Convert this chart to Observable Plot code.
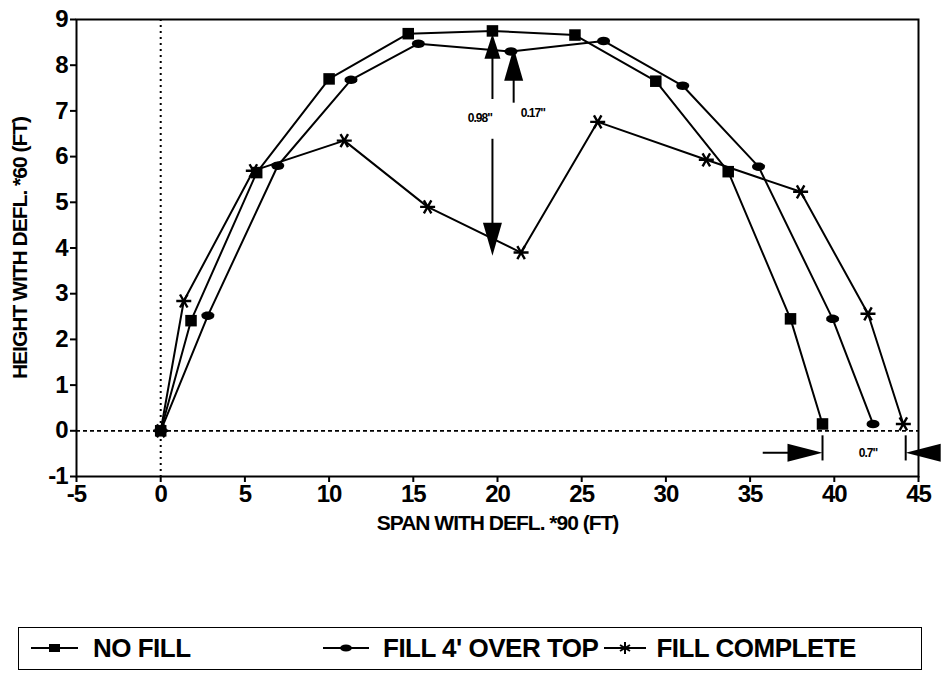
<!DOCTYPE html>
<html>
<head>
<meta charset="utf-8">
<script src="https://cdn.jsdelivr.net/npm/d3@7"></script>
<script src="https://cdn.jsdelivr.net/npm/@observablehq/plot@0.6"></script>
<style>
  html, body { margin: 0; padding: 0; background: #fff; overflow: hidden; }
  #wrap { position: relative; width: 943px; height: 673px; font-family: "Liberation Sans", Arial, sans-serif; }
  #chart svg { overflow: hidden; }
  #legend { position: absolute; left: 18px; top: 627px; width: 904px; height: 43px; border: 1.5px solid #000; box-sizing: border-box; }
  .row { position: absolute; top: 0; height: 40px; display: flex; align-items: center; }
  .row span { font-size: 26px; font-weight: bold; letter-spacing: -0.5px; white-space: pre; line-height: 1; }
  .row svg { display: block; }
</style>
</head>
<body>
<div id="wrap">
  <div id="chart"></div>
  <div id="legend">
    <div class="row" style="left:12px">
      <svg width="47" height="20"><line x1="0" y1="10" x2="47" y2="10" stroke="#000" stroke-width="2.2"/><rect x="18" y="6" width="11" height="8" fill="#000"/></svg>
      <span style="margin-left:15px">NO FILL</span>
    </div>
    <div class="row" style="left:304px">
      <svg width="46" height="20"><line x1="0" y1="10" x2="46" y2="10" stroke="#000" stroke-width="2.2"/><ellipse cx="23" cy="10" rx="6" ry="3.5" fill="#000"/></svg>
      <span style="margin-left:14px">FILL 4' OVER TOP</span>
      <svg width="42" height="20" style="margin-left:6px"><line x1="0" y1="10" x2="42" y2="10" stroke="#000" stroke-width="2"/><g stroke="#000" stroke-width="2"><line x1="21" y1="4" x2="21" y2="16"/><line x1="16" y1="7" x2="26" y2="13"/><line x1="16" y1="13" x2="26" y2="7"/></g></svg>
      <span style="margin-left:10px">FILL COMPLETE</span>
    </div>
  </div>
</div>
<script>
// ---- data ----
const noFillX = [0, 1.8, 5.7, 10.0, 14.7, 19.7, 24.6, 29.4, 33.7, 37.4, 39.3];
const noFillY = [0, 2.41, 5.65, 7.7, 8.69, 8.75, 8.66, 7.65, 5.67, 2.45, 0.15];

const fill4X = [0, 2.8, 6.95, 11.3, 15.3, 20.8, 26.3, 31.0, 35.5, 39.9, 42.3];
const fill4Y = [0, 2.52, 5.8, 7.68, 8.47, 8.3, 8.53, 7.55, 5.78, 2.45, 0.15];

const fullX = [0, 1.37, 5.5, 10.9, 15.85, 21.4, 25.95, 32.4, 38.0, 42.0, 44.1];
const fullY = [0, 2.84, 5.69, 6.35, 4.9, 3.9, 6.76, 5.93, 5.23, 2.56, 0.15];

const xTicks = [-5, 0, 5, 10, 15, 20, 25, 30, 35, 40, 45];
const yTicks = [-1, 0, 1, 2, 3, 4, 5, 6, 7, 8, 9];

// annotation arrows (deflection markers)
const shaftX1 = [19.7, 19.7, 20.96, 35.75];
const shaftY1 = [7.26, 6.39, 7.18, -0.48];
const shaftX2 = [19.7, 19.7, 20.96, 38.0];
const shaftY2 = [8.2, 4.5, 7.75, -0.48];

const headUpX = [19.7];   const headUpY = [8.69];
const headUp2X = [20.96]; const headUp2Y = [8.38];
const headDownX = [19.7]; const headDownY = [3.83];
const headRightX = [39.3]; const headRightY = [-0.48];
const headLeftX = [44.24]; const headLeftY = [-0.48];

const barX = [39.3, 44.24];
const barY1 = [-0.11, -0.11];
const barY2 = [-0.66, -0.66];

const labelText = ["0.98\"", "0.17\"", "0.7\""];
const labelX = [18.95, 22.1, 42.0];
const labelY = [6.85, 6.96, -0.48];

const titleX = "SPAN WITH DEFL. *90 (FT)";
const titleY = "HEIGHT WITH DEFL. *60 (FT)";

// ---- build tables ----
const zip = (xs, ys) => xs.map((x, i) => ({x, y: ys[i]}));
const noFill = zip(noFillX, noFillY);
const fill4 = zip(fill4X, fill4Y);
const full = zip(fullX, fullY);
const shafts = shaftX1.map((x1, i) => ({x1, y1: shaftY1[i], x2: shaftX2[i], y2: shaftY2[i]}));
const bars = barX.map((x, i) => ({x, y1: barY1[i], y2: barY2[i]}));
const labels = labelText.map((t, i) => ({t, x: labelX[i], y: labelY[i]}));

// custom symbols
function head(w, l) {
  return {draw(ctx) { ctx.moveTo(0, 0); ctx.lineTo(w / 2, l); ctx.lineTo(-w / 2, l); ctx.closePath(); }};
}
const ellipseSym = {draw(ctx, size) {
  const r = Math.sqrt(size / Math.PI), rx = r * 1.3, ry = r * 0.85, n = 20;
  for (let i = 0; i < n; i++) {
    const a = 2 * Math.PI * i / n;
    const px = rx * Math.cos(a), py = ry * Math.sin(a);
    if (i === 0) ctx.moveTo(px, py); else ctx.lineTo(px, py);
  }
  ctx.closePath();
}};
const starSym = {draw(ctx, size) {
  const r = Math.sqrt(size / Math.PI);
  ctx.moveTo(-r, 0); ctx.lineTo(r, 0);
  const c = Math.cos(Math.PI / 3) * r, s = Math.sin(Math.PI / 3) * r;
  ctx.moveTo(-c, -s); ctx.lineTo(c, s);
  ctx.moveTo(-c, s); ctx.lineTo(c, -s);
}};

const chart = Plot.plot({
  width: 943,
  height: 610,
  marginLeft: 76,
  marginRight: 25,
  marginTop: 19,
  marginBottom: 134,
  x: {domain: [-5, 45], label: null},
  y: {domain: [-1, 9], label: null},
  style: {fontFamily: "'Liberation Sans', Arial, sans-serif", fontWeight: "bold", letterSpacing: "-1px", color: "#000", background: "#fff"},
  marks: [
    Plot.ruleX([0], {stroke: "#000", strokeWidth: 2, strokeDasharray: "2,4"}),
    Plot.ruleY([0], {stroke: "#000", strokeWidth: 1.8, strokeDasharray: "4,3"}),
    Plot.frame({stroke: "#000", strokeWidth: 2}),
    Plot.axisX({ticks: xTicks, tickSize: 6, tickPadding: 2, fontSize: 24, tickFormat: d => String(d), label: null, strokeWidth: 2}),
    Plot.axisY({ticks: yTicks, tickSize: 6, tickPadding: 3, fontSize: 24, tickFormat: d => String(d), label: null, strokeWidth: 2}),
    // series
    Plot.line(noFill, {x: "x", y: "y", stroke: "#000", strokeWidth: 2}),
    Plot.line(fill4, {x: "x", y: "y", stroke: "#000", strokeWidth: 2}),
    Plot.line(full, {x: "x", y: "y", stroke: "#000", strokeWidth: 2}),
    Plot.dot(noFill, {x: "x", y: "y", symbol: "square", r: 6.5, fill: "#000", stroke: "none"}),
    Plot.dot(fill4, {x: "x", y: "y", symbol: ellipseSym, r: 5, fill: "#000", stroke: "none"}),
    Plot.dot(full, {x: "x", y: "y", symbol: starSym, r: 7.5, fill: "none", stroke: "#000", strokeWidth: 2.4}),
    // annotations
    Plot.link(shafts, {x1: "x1", y1: "y1", x2: "x2", y2: "y2", stroke: "#000", strokeWidth: 2}),
    Plot.ruleX(bars, {x: "x", y1: "y1", y2: "y2", stroke: "#000", strokeWidth: 2}),
    Plot.dot(zip(headUpX, headUpY), {x: "x", y: "y", symbol: head(16, 25), r: 1, fill: "#000", stroke: "none"}),
    Plot.dot(zip(headUp2X, headUp2Y), {x: "x", y: "y", symbol: head(19, 33), r: 1, fill: "#000", stroke: "none"}),
    Plot.dot(zip(headDownX, headDownY), {x: "x", y: "y", symbol: head(19, 33), r: 1, fill: "#000", stroke: "none", rotate: 180}),
    Plot.dot(zip(headRightX, headRightY), {x: "x", y: "y", symbol: head(18, 35), r: 1, fill: "#000", stroke: "none", rotate: 90}),
    Plot.dot(zip(headLeftX, headLeftY), {x: "x", y: "y", symbol: head(18, 35), r: 1, fill: "#000", stroke: "none", rotate: -90}),
    Plot.text(labels, {x: "x", y: "y", text: "t", fontSize: 12, fontWeight: "bold", fill: "#000", letterSpacing: "0px"}),
    // axis titles
    Plot.text([titleX], {text: d => d, frameAnchor: "bottom", lineAnchor: "middle", textAnchor: "middle", dy: 47, fontSize: 21, fill: "#000"}),
    Plot.text([titleY], {text: d => d, frameAnchor: "left", lineAnchor: "middle", textAnchor: "middle", rotate: -90, dx: -56, fontSize: 21, fill: "#000"})
  ]
});
document.getElementById("chart").appendChild(chart);
</script>
</body>
</html>
